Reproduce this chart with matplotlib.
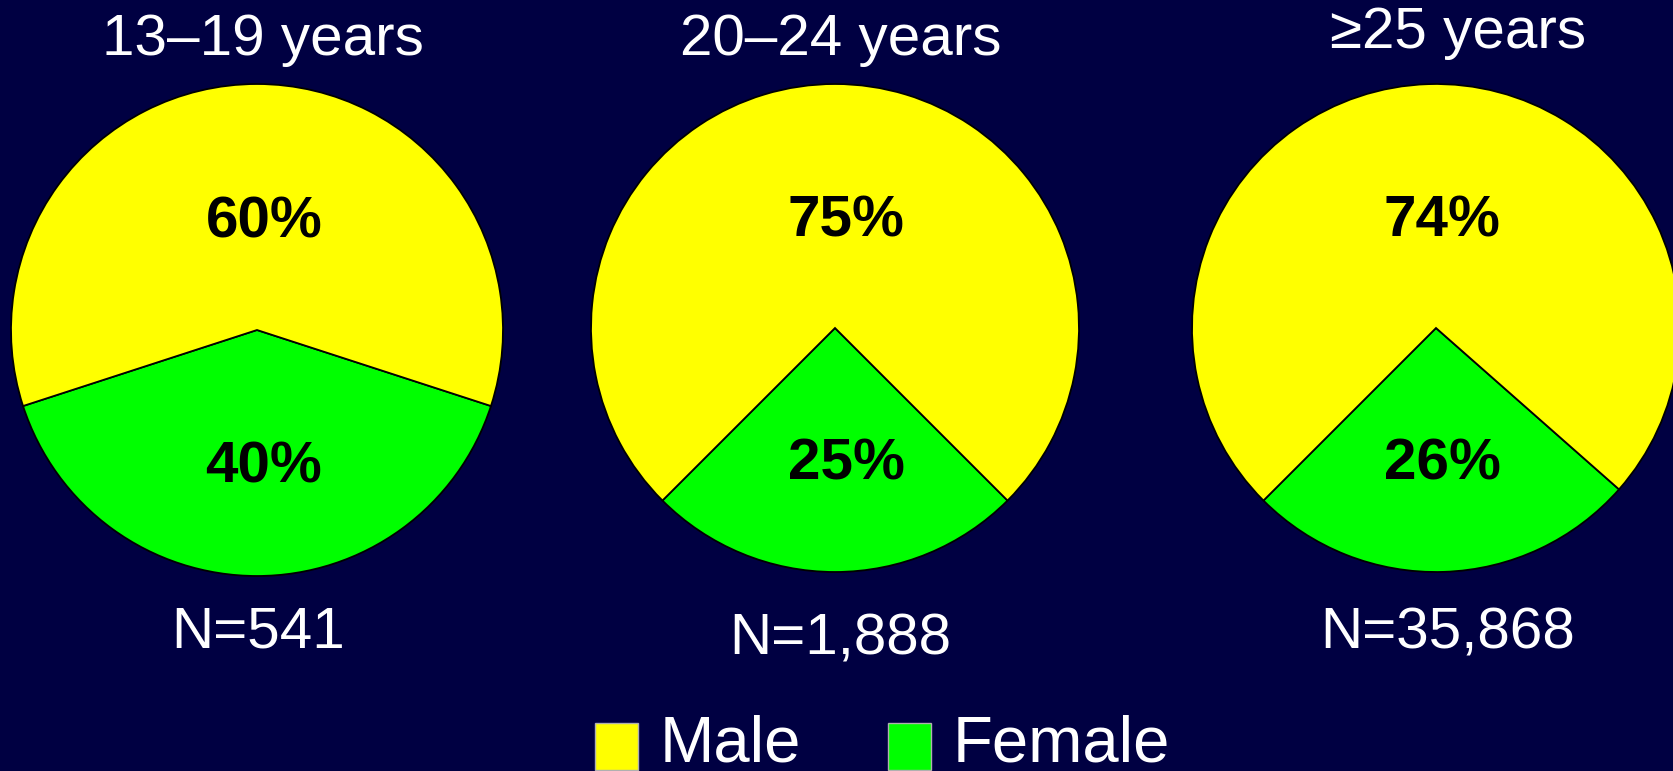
import matplotlib
matplotlib.use("Agg")
import matplotlib.pyplot as plt

plt.rcParams['font.family'] = ['Liberation Sans', 'DejaVu Sans']

groups = ["13\u201319 years", "20\u201324 years", "\u226525 years"]
counts = ["N=541", "N=1,888", "N=35,868"]
sexes = ["Female", "Male"]
female_pct = [40, 25, 26]
male_pct = [60, 75, 74]
colors = ["#00ff00", "#ffff00"]
bg = "#000042"

# pixel geometry of each pie (center x, center y, radius) and start angle of female wedge
centers = [(257, 330, 246), (835, 328, 244), (1436, 328, 244)]
starts = [198, 225, 225]
label_dx = [0.028, 0.045, 0.025]
title_pos = [(263, 40), (841, 40), (1458, 33)]
n_pos = [(258, 633), (840, 640), (1448, 633)]

W, H = 1673, 771
fig = plt.figure(figsize=(W / 100, H / 100), dpi=100, facecolor=bg)

wedges = None
for i in range(3):
    cx, cy, r = centers[i]
    ax = fig.add_axes([(cx - r) / W, (H - cy - r) / H, 2 * r / W, 2 * r / H])
    ax.set_facecolor(bg)
    w, _ = ax.pie([female_pct[i], male_pct[i]], colors=colors, startangle=starts[i],
                  counterclock=True, radius=1,
                  wedgeprops=dict(edgecolor="black", linewidth=1.3))
    for p in w:
        p.set_clip_on(False)
    ax.set_xlim(-1, 1)
    ax.set_ylim(-1, 1)
    ax.axis("off")
    # percentage labels, placed by baseline
    ax.text(label_dx[i], 0.375, "%d%%" % male_pct[i], ha="center", va="baseline",
            fontsize=42, fontweight="bold", color="black")
    ax.text(label_dx[i], -0.62, "%d%%" % female_pct[i], ha="center", va="baseline",
            fontsize=42, fontweight="bold", color="black")
    if wedges is None:
        wedges = w
    fig.text(title_pos[i][0] / W, 1 - title_pos[i][1] / H, groups[i], ha="center",
             va="center", fontsize=42, color="white")
    fig.text(n_pos[i][0] / W, 1 - n_pos[i][1] / H, counts[i], ha="center",
             va="center", fontsize=42, color="white")

leg = fig.legend([wedges[1], wedges[0]], ["Male", "Female"], ncol=2, loc="upper left",
                 bbox_to_anchor=(595 / W, 1 - 714 / H), frameon=False, fontsize=47,
                 handlelength=0.66, handleheight=0.72, handletextpad=0.33,
                 columnspacing=1.33, borderpad=0, borderaxespad=0, labelcolor="white")
for h in leg.legend_handles:
    h.set_edgecolor("#b0b0b0")
    h.set_linewidth(1)
    h.set_y(h.get_y() - 6)

fig.savefig("out.png", dpi=100, facecolor=bg)
